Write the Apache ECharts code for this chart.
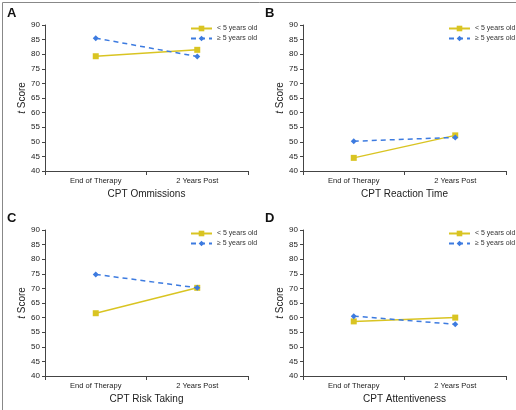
<!DOCTYPE html>
<html><head><meta charset="utf-8">
<script src="https://cdn.jsdelivr.net/npm/echarts@6/dist/echarts.min.js"></script>
<style>html,body{margin:0;padding:0;background:#fff}#c{width:516px;height:410px}</style>
</head><body><div id="c"></div>
<script>
const categories = ["End of Therapy", "2 Years Post"];
const seriesNames = ["< 5 years old", "\u2265 5 years old"];
const panelLetters = ["A", "B", "C", "D"];
const panelTitles = ["CPT Ommissions", "CPT Reaction Time", "CPT Risk Taking", "CPT Attentiveness"];
const under5 = [[79.3, 81.5], [44.5, 52.2], [61.5, 70.2], [58.7, 60.0]];
const over5 = [[85.5, 79.2], [50.2, 51.5], [74.8, 70.2], [60.5, 57.7]];
const yTicks = [40, 45, 50, 55, 60, 65, 70, 75, 80, 85, 90];

const YEL = "#D9C422", BLU = "#3D7BE0";
const FONT = "Liberation Sans";
const pos = [
  {left: 45, top: 25, x0: 0, y0: 0},
  {left: 303, top: 25, x0: 258, y0: 0},
  {left: 45, top: 230, x0: 0, y0: 205},
  {left: 303, top: 230, x0: 258, y0: 205}
];
const grid = [], xAxis = [], yAxis = [], series = [], legend = [], graphic = [];
pos.forEach((p, i) => {
  grid.push({left: p.left, top: p.top, width: 203, height: 146});
  xAxis.push({type: 'category', gridIndex: i, data: categories, boundaryGap: true,
    axisLine: {lineStyle: {color: '#444', width: 1}},
    axisTick: {show: true, length: 4, alignWithLabel: false, lineStyle: {color: '#444'}},
    axisLabel: {fontFamily: FONT, fontSize: 7.5, color: '#222', margin: 6},
    name: panelTitles[i], nameLocation: 'middle', nameGap: 18,
    nameTextStyle: {fontFamily: FONT, fontSize: 10, color: '#222'}});
  yAxis.push({type: 'value', gridIndex: i, min: 40, max: 90, interval: 5,
    splitLine: {show: false},
    axisLine: {show: true, lineStyle: {color: '#444', width: 1}},
    axisTick: {show: true, length: 3, lineStyle: {color: '#444'}},
    axisLabel: {fontFamily: FONT, fontSize: 8, color: '#222', margin: 5,
      formatter: v => yTicks.includes(v) ? String(v) : ''},
    name: '{i|t} Score', nameLocation: 'middle', nameGap: 18, nameRotate: 90,
    nameTextStyle: {fontFamily: FONT, fontSize: 10, color: '#222',
      rich: {i: {fontStyle: 'italic', fontFamily: FONT, fontSize: 10, color: '#222'}}}});
  series.push({name: seriesNames[0], type: 'line', xAxisIndex: i, yAxisIndex: i,
    data: under5[i], symbol: 'rect', symbolSize: 6, color: YEL,
    lineStyle: {color: YEL, width: 1.5}, itemStyle: {color: YEL}, z: 2});
  series.push({name: seriesNames[1], type: 'line', xAxisIndex: i, yAxisIndex: i,
    data: over5[i], symbol: 'diamond', symbolSize: 6, color: BLU,
    lineStyle: {color: BLU, width: 1.5, type: [5, 4]}, itemStyle: {color: BLU}, z: 3});
  legend.push({left: p.x0 + 185, top: p.y0 + 20, orient: 'vertical', itemGap: 3,
    itemWidth: 21, itemHeight: 7, data: seriesNames,
    textStyle: {fontFamily: FONT, fontSize: 7, color: '#333'}});
  graphic.push({type: 'text', left: p.x0 + 7, top: p.y0 + 7,
    style: {text: panelLetters[i], font: 'bold 13px "' + FONT + '"', fill: '#111'}});
});
graphic.push({type: 'rect', left: 0, top: 0, silent: true,
  shape: {x: 0.5, y: 0.5, width: 515, height: 409},
  style: {fill: 'none', stroke: '#888', lineWidth: 1}});

const chart = echarts.init(document.getElementById('c'), null, {renderer: 'canvas'});
chart.setOption({animation: false, backgroundColor: '#fff', grid, xAxis, yAxis, series, legend, graphic});
</script></body></html>
